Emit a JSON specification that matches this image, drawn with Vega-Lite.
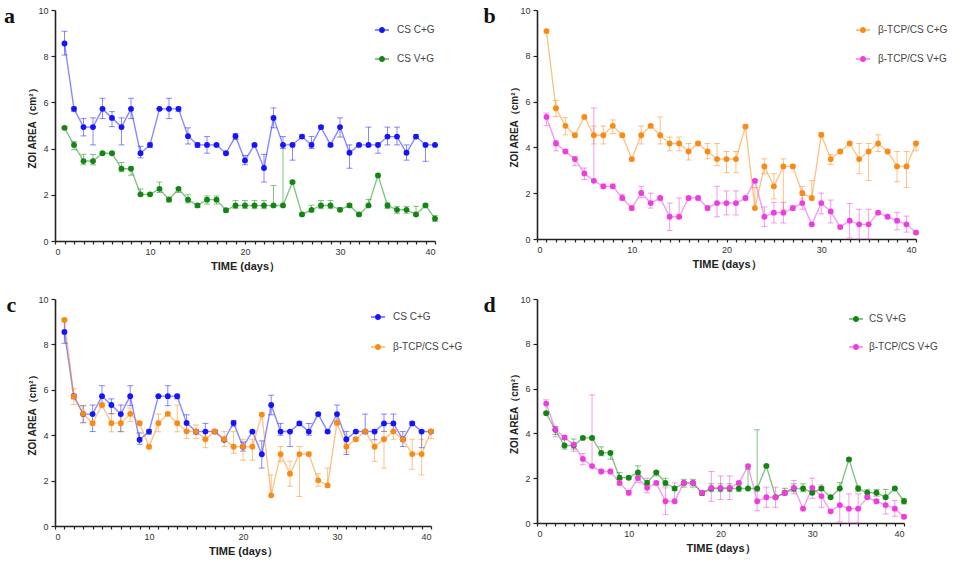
{
  "$schema": "https://vega.github.io/schema/vega-lite/v6.json",
  "background": "white",
  "padding": {"left": 3, "top": 5, "right": 2, "bottom": 5},
  "config": {
    "view": {"stroke": null},
    "font": "Liberation Sans",
    "axis": {
      "grid": false,
      "domainColor": "#222222",
      "domainWidth": 1.6,
      "tickColor": "#222222",
      "tickWidth": 1.2,
      "tickSize": 4,
      "labelFont": "Liberation Sans",
      "labelFontSize": 9,
      "labelColor": "#333333",
      "labelPadding": 3,
      "titleFont": "Liberation Sans",
      "titleFontSize": 10,
      "titleFontWeight": "bold",
      "titleColor": "#222222"
    },
    "legend": {
      "title": null,
      "orient": "none",
      "padding": 0,
      "symbolType": "M-1,-0.07L-0.43,-0.07L-0.43,0.07L-1,0.07Z M0.43,-0.07L1,-0.07L1,0.07L0.43,0.07Z M0.43,0A0.43,0.43,0,1,1,-0.43,0A0.43,0.43,0,1,1,0.43,0Z",
      "symbolSize": 196,
      "symbolOpacity": 1,
      "symbolStrokeWidth": 0,
      "labelFont": "Liberation Sans",
      "labelFontSize": 10,
      "labelColor": "#444444",
      "labelOffset": 8,
      "rowPadding": 17
    },
    "title": {"font": "Liberation Serif", "fontSize": 22, "fontWeight": "bold", "color": "#111111"}
  },
  "datasets": {
    "zoi": [
      {"group": "CS C+G", "day": 1, "v": 8.55, "lo": 8.05, "hi": 9.08},
      {"group": "CS C+G", "day": 2, "v": 5.72, "lo": 5.6, "hi": 5.8},
      {"group": "CS C+G", "day": 3, "v": 4.93, "lo": 4.55, "hi": 5.3},
      {"group": "CS C+G", "day": 4, "v": 4.93, "lo": 4.16, "hi": 5.33},
      {"group": "CS C+G", "day": 5, "v": 5.72, "lo": 5.3, "hi": 6.18},
      {"group": "CS C+G", "day": 6, "v": 5.33, "lo": 4.95, "hi": 5.6},
      {"group": "CS C+G", "day": 7, "v": 4.93, "lo": 4.16, "hi": 5.33},
      {"group": "CS C+G", "day": 8, "v": 5.72, "lo": 5.3, "hi": 6.18},
      {"group": "CS C+G", "day": 9, "v": 3.8, "lo": 3.6, "hi": 4.1},
      {"group": "CS C+G", "day": 10, "v": 4.16, "lo": 4.05, "hi": 4.25},
      {"group": "CS C+G", "day": 11, "v": 5.72, "lo": 5.72, "hi": 5.72},
      {"group": "CS C+G", "day": 12, "v": 5.72, "lo": 5.3, "hi": 6.18},
      {"group": "CS C+G", "day": 13, "v": 5.72, "lo": 5.6, "hi": 5.8},
      {"group": "CS C+G", "day": 14, "v": 4.54, "lo": 4.2, "hi": 4.9},
      {"group": "CS C+G", "day": 15, "v": 4.16, "lo": 4.05, "hi": 4.25},
      {"group": "CS C+G", "day": 16, "v": 4.16, "lo": 3.8, "hi": 4.52},
      {"group": "CS C+G", "day": 17, "v": 4.16, "lo": 4.1, "hi": 4.2},
      {"group": "CS C+G", "day": 18, "v": 3.8, "lo": 3.75, "hi": 3.85},
      {"group": "CS C+G", "day": 19, "v": 4.54, "lo": 4.4, "hi": 4.65},
      {"group": "CS C+G", "day": 20, "v": 3.49, "lo": 3.3, "hi": 3.7},
      {"group": "CS C+G", "day": 21, "v": 4.16, "lo": 4.1, "hi": 4.2},
      {"group": "CS C+G", "day": 22, "v": 3.16, "lo": 2.55, "hi": 3.75},
      {"group": "CS C+G", "day": 23, "v": 5.33, "lo": 4.9, "hi": 5.76},
      {"group": "CS C+G", "day": 24, "v": 4.16, "lo": 4.0, "hi": 4.52},
      {"group": "CS C+G", "day": 25, "v": 4.16, "lo": 3.5, "hi": 4.2},
      {"group": "CS C+G", "day": 26, "v": 4.52, "lo": 4.45, "hi": 4.6},
      {"group": "CS C+G", "day": 27, "v": 4.16, "lo": 4.0, "hi": 4.52},
      {"group": "CS C+G", "day": 28, "v": 4.93, "lo": 4.85, "hi": 5.0},
      {"group": "CS C+G", "day": 29, "v": 4.16, "lo": 4.1, "hi": 4.2},
      {"group": "CS C+G", "day": 30, "v": 4.93, "lo": 4.5, "hi": 5.33},
      {"group": "CS C+G", "day": 31, "v": 3.82, "lo": 3.15, "hi": 4.16},
      {"group": "CS C+G", "day": 32, "v": 4.16, "lo": 4.1, "hi": 4.2},
      {"group": "CS C+G", "day": 33, "v": 4.16, "lo": 4.1, "hi": 4.93},
      {"group": "CS C+G", "day": 34, "v": 4.16, "lo": 3.8, "hi": 4.25},
      {"group": "CS C+G", "day": 35, "v": 4.52, "lo": 4.16, "hi": 4.93},
      {"group": "CS C+G", "day": 36, "v": 4.52, "lo": 4.16, "hi": 4.93},
      {"group": "CS C+G", "day": 37, "v": 3.82, "lo": 3.5, "hi": 4.16},
      {"group": "CS C+G", "day": 38, "v": 4.52, "lo": 4.45, "hi": 4.6},
      {"group": "CS C+G", "day": 39, "v": 4.16, "lo": 3.45, "hi": 4.2},
      {"group": "CS C+G", "day": 40, "v": 4.16, "lo": 4.16, "hi": 4.16},

      {"group": "CS V+G", "day": 1, "v": 4.9, "lo": 4.85, "hi": 4.95},
      {"group": "CS V+G", "day": 2, "v": 4.16, "lo": 3.95, "hi": 4.3},
      {"group": "CS V+G", "day": 3, "v": 3.46, "lo": 3.3, "hi": 3.75},
      {"group": "CS V+G", "day": 4, "v": 3.46, "lo": 3.3, "hi": 3.75},
      {"group": "CS V+G", "day": 5, "v": 3.8, "lo": 3.75, "hi": 3.85},
      {"group": "CS V+G", "day": 6, "v": 3.8, "lo": 3.75, "hi": 3.85},
      {"group": "CS V+G", "day": 7, "v": 3.13, "lo": 3.0, "hi": 3.4},
      {"group": "CS V+G", "day": 8, "v": 3.13, "lo": 2.85, "hi": 3.2},
      {"group": "CS V+G", "day": 9, "v": 2.02, "lo": 1.95, "hi": 2.25},
      {"group": "CS V+G", "day": 10, "v": 2.02, "lo": 1.97, "hi": 2.07},
      {"group": "CS V+G", "day": 11, "v": 2.26, "lo": 2.1, "hi": 2.55},
      {"group": "CS V+G", "day": 12, "v": 1.79, "lo": 1.7, "hi": 1.9},
      {"group": "CS V+G", "day": 13, "v": 2.26, "lo": 2.1, "hi": 2.3},
      {"group": "CS V+G", "day": 14, "v": 1.79, "lo": 1.65, "hi": 2.0},
      {"group": "CS V+G", "day": 15, "v": 1.54, "lo": 1.45, "hi": 1.6},
      {"group": "CS V+G", "day": 16, "v": 1.79, "lo": 1.6, "hi": 1.95},
      {"group": "CS V+G", "day": 17, "v": 1.79, "lo": 1.6, "hi": 1.95},
      {"group": "CS V+G", "day": 18, "v": 1.33, "lo": 1.25, "hi": 1.4},
      {"group": "CS V+G", "day": 19, "v": 1.54, "lo": 1.4, "hi": 1.75},
      {"group": "CS V+G", "day": 20, "v": 1.54, "lo": 1.4, "hi": 1.75},
      {"group": "CS V+G", "day": 21, "v": 1.54, "lo": 1.4, "hi": 1.75},
      {"group": "CS V+G", "day": 22, "v": 1.54, "lo": 1.4, "hi": 1.75},
      {"group": "CS V+G", "day": 23, "v": 1.54, "lo": 1.5, "hi": 2.4},
      {"group": "CS V+G", "day": 24, "v": 1.54, "lo": 1.54, "hi": 4.16},
      {"group": "CS V+G", "day": 25, "v": 2.55, "lo": 2.5, "hi": 2.6},
      {"group": "CS V+G", "day": 26, "v": 1.15, "lo": 1.1, "hi": 1.2},
      {"group": "CS V+G", "day": 27, "v": 1.35, "lo": 1.25, "hi": 1.55},
      {"group": "CS V+G", "day": 28, "v": 1.54, "lo": 1.4, "hi": 1.75},
      {"group": "CS V+G", "day": 29, "v": 1.54, "lo": 1.4, "hi": 1.75},
      {"group": "CS V+G", "day": 30, "v": 1.35, "lo": 1.3, "hi": 1.45},
      {"group": "CS V+G", "day": 31, "v": 1.54, "lo": 1.45, "hi": 1.6},
      {"group": "CS V+G", "day": 32, "v": 1.15, "lo": 1.1, "hi": 1.2},
      {"group": "CS V+G", "day": 33, "v": 1.54, "lo": 1.5, "hi": 1.8},
      {"group": "CS V+G", "day": 34, "v": 2.84, "lo": 2.8, "hi": 2.9},
      {"group": "CS V+G", "day": 35, "v": 1.54, "lo": 1.4, "hi": 1.65},
      {"group": "CS V+G", "day": 36, "v": 1.35, "lo": 1.2, "hi": 1.5},
      {"group": "CS V+G", "day": 37, "v": 1.35, "lo": 1.2, "hi": 1.5},
      {"group": "CS V+G", "day": 38, "v": 1.15, "lo": 1.1, "hi": 1.5},
      {"group": "CS V+G", "day": 39, "v": 1.54, "lo": 1.5, "hi": 1.6},
      {"group": "CS V+G", "day": 40, "v": 0.97, "lo": 0.85, "hi": 1.1},

      {"group": "β-TCP/CS C+G", "day": 1, "v": 9.08, "lo": 9.0, "hi": 9.15},
      {"group": "β-TCP/CS C+G", "day": 2, "v": 5.71, "lo": 5.35, "hi": 6.05},
      {"group": "β-TCP/CS C+G", "day": 3, "v": 4.94, "lo": 4.55, "hi": 5.3},
      {"group": "β-TCP/CS C+G", "day": 4, "v": 4.53, "lo": 4.45, "hi": 4.6},
      {"group": "β-TCP/CS C+G", "day": 5, "v": 5.33, "lo": 5.25, "hi": 5.4},
      {"group": "β-TCP/CS C+G", "day": 6, "v": 4.53, "lo": 4.15, "hi": 4.93},
      {"group": "β-TCP/CS C+G", "day": 7, "v": 4.53, "lo": 4.15, "hi": 4.93},
      {"group": "β-TCP/CS C+G", "day": 8, "v": 4.94, "lo": 4.6, "hi": 5.2},
      {"group": "β-TCP/CS C+G", "day": 9, "v": 4.53, "lo": 4.45, "hi": 4.6},
      {"group": "β-TCP/CS C+G", "day": 10, "v": 3.49, "lo": 3.4, "hi": 3.55},
      {"group": "β-TCP/CS C+G", "day": 11, "v": 4.53, "lo": 4.15, "hi": 4.93},
      {"group": "β-TCP/CS C+G", "day": 12, "v": 4.94, "lo": 4.85, "hi": 5.0},
      {"group": "β-TCP/CS C+G", "day": 13, "v": 4.53, "lo": 4.15, "hi": 5.33},
      {"group": "β-TCP/CS C+G", "day": 14, "v": 4.17, "lo": 3.85, "hi": 4.45},
      {"group": "β-TCP/CS C+G", "day": 15, "v": 4.17, "lo": 3.85, "hi": 4.45},
      {"group": "β-TCP/CS C+G", "day": 16, "v": 3.82, "lo": 3.45, "hi": 4.17},
      {"group": "β-TCP/CS C+G", "day": 17, "v": 4.17, "lo": 4.1, "hi": 4.25},
      {"group": "β-TCP/CS C+G", "day": 18, "v": 3.82, "lo": 3.5, "hi": 4.17},
      {"group": "β-TCP/CS C+G", "day": 19, "v": 3.49, "lo": 3.2, "hi": 4.17},
      {"group": "β-TCP/CS C+G", "day": 20, "v": 3.49, "lo": 2.9, "hi": 3.82},
      {"group": "β-TCP/CS C+G", "day": 21, "v": 3.49, "lo": 2.9, "hi": 3.82},
      {"group": "β-TCP/CS C+G", "day": 22, "v": 4.91, "lo": 4.85, "hi": 5.0},
      {"group": "β-TCP/CS C+G", "day": 23, "v": 1.35, "lo": 1.3, "hi": 2.25},
      {"group": "β-TCP/CS C+G", "day": 24, "v": 3.17, "lo": 2.85, "hi": 3.5},
      {"group": "β-TCP/CS C+G", "day": 25, "v": 2.3, "lo": 1.75, "hi": 2.85},
      {"group": "β-TCP/CS C+G", "day": 26, "v": 3.17, "lo": 1.3, "hi": 3.5},
      {"group": "β-TCP/CS C+G", "day": 27, "v": 3.17, "lo": 3.1, "hi": 3.25},
      {"group": "β-TCP/CS C+G", "day": 28, "v": 2.01, "lo": 1.75, "hi": 2.3},
      {"group": "β-TCP/CS C+G", "day": 29, "v": 1.79, "lo": 1.7, "hi": 2.55},
      {"group": "β-TCP/CS C+G", "day": 30, "v": 4.55, "lo": 4.45, "hi": 4.65},
      {"group": "β-TCP/CS C+G", "day": 31, "v": 3.49, "lo": 3.25, "hi": 3.7},
      {"group": "β-TCP/CS C+G", "day": 32, "v": 3.82, "lo": 3.75, "hi": 3.9},
      {"group": "β-TCP/CS C+G", "day": 33, "v": 4.17, "lo": 4.1, "hi": 4.25},
      {"group": "β-TCP/CS C+G", "day": 34, "v": 3.49, "lo": 2.85, "hi": 4.17},
      {"group": "β-TCP/CS C+G", "day": 35, "v": 3.82, "lo": 2.55, "hi": 4.17},
      {"group": "β-TCP/CS C+G", "day": 36, "v": 4.17, "lo": 3.82, "hi": 4.55},
      {"group": "β-TCP/CS C+G", "day": 37, "v": 3.82, "lo": 3.75, "hi": 3.9},
      {"group": "β-TCP/CS C+G", "day": 38, "v": 3.17, "lo": 2.5, "hi": 3.82},
      {"group": "β-TCP/CS C+G", "day": 39, "v": 3.17, "lo": 2.25, "hi": 3.82},
      {"group": "β-TCP/CS C+G", "day": 40, "v": 4.17, "lo": 3.85, "hi": 4.25},

      {"group": "β-TCP/CS V+G", "day": 1, "v": 5.33, "lo": 4.95, "hi": 5.5},
      {"group": "β-TCP/CS V+G", "day": 2, "v": 4.17, "lo": 3.85, "hi": 4.3},
      {"group": "β-TCP/CS V+G", "day": 3, "v": 3.82, "lo": 3.75, "hi": 3.9},
      {"group": "β-TCP/CS V+G", "day": 4, "v": 3.49, "lo": 3.2, "hi": 3.6},
      {"group": "β-TCP/CS V+G", "day": 5, "v": 2.86, "lo": 2.6, "hi": 3.1},
      {"group": "β-TCP/CS V+G", "day": 6, "v": 2.54, "lo": 2.54, "hi": 5.72},
      {"group": "β-TCP/CS V+G", "day": 7, "v": 2.3, "lo": 2.2, "hi": 2.4},
      {"group": "β-TCP/CS V+G", "day": 8, "v": 2.3, "lo": 2.2, "hi": 2.4},
      {"group": "β-TCP/CS V+G", "day": 9, "v": 1.79, "lo": 1.7, "hi": 1.95},
      {"group": "β-TCP/CS V+G", "day": 10, "v": 1.35, "lo": 1.25, "hi": 1.45},
      {"group": "β-TCP/CS V+G", "day": 11, "v": 2.01, "lo": 1.8, "hi": 2.3},
      {"group": "β-TCP/CS V+G", "day": 12, "v": 1.57, "lo": 1.35, "hi": 2.0},
      {"group": "β-TCP/CS V+G", "day": 13, "v": 1.79, "lo": 1.7, "hi": 1.85},
      {"group": "β-TCP/CS V+G", "day": 14, "v": 0.97, "lo": 0.37, "hi": 1.57},
      {"group": "β-TCP/CS V+G", "day": 15, "v": 0.97, "lo": 0.9, "hi": 1.79},
      {"group": "β-TCP/CS V+G", "day": 16, "v": 1.79, "lo": 1.7, "hi": 1.85},
      {"group": "β-TCP/CS V+G", "day": 17, "v": 1.79, "lo": 1.7, "hi": 1.85},
      {"group": "β-TCP/CS V+G", "day": 18, "v": 1.35, "lo": 1.25, "hi": 1.45},
      {"group": "β-TCP/CS V+G", "day": 19, "v": 1.57, "lo": 0.97, "hi": 2.3},
      {"group": "β-TCP/CS V+G", "day": 20, "v": 1.57, "lo": 1.05, "hi": 2.1},
      {"group": "β-TCP/CS V+G", "day": 21, "v": 1.57, "lo": 1.05, "hi": 2.1},
      {"group": "β-TCP/CS V+G", "day": 22, "v": 1.79, "lo": 1.7, "hi": 1.85},
      {"group": "β-TCP/CS V+G", "day": 23, "v": 2.54, "lo": 2.45, "hi": 2.6},
      {"group": "β-TCP/CS V+G", "day": 24, "v": 0.97, "lo": 0.55, "hi": 1.4},
      {"group": "β-TCP/CS V+G", "day": 25, "v": 1.15, "lo": 0.7, "hi": 1.6},
      {"group": "β-TCP/CS V+G", "day": 26, "v": 1.15, "lo": 0.7, "hi": 1.6},
      {"group": "β-TCP/CS V+G", "day": 27, "v": 1.35, "lo": 1.25, "hi": 1.45},
      {"group": "β-TCP/CS V+G", "day": 28, "v": 1.57, "lo": 1.3, "hi": 1.9},
      {"group": "β-TCP/CS V+G", "day": 29, "v": 0.64, "lo": 0.6, "hi": 0.7},
      {"group": "β-TCP/CS V+G", "day": 30, "v": 1.57, "lo": 1.1, "hi": 2.0},
      {"group": "β-TCP/CS V+G", "day": 31, "v": 1.2, "lo": 0.7, "hi": 1.7},
      {"group": "β-TCP/CS V+G", "day": 32, "v": 0.52, "lo": 0.45, "hi": 0.6},
      {"group": "β-TCP/CS V+G", "day": 33, "v": 0.8, "lo": 0.05, "hi": 1.55},
      {"group": "β-TCP/CS V+G", "day": 34, "v": 0.64, "lo": 0.0, "hi": 1.3},
      {"group": "β-TCP/CS V+G", "day": 35, "v": 0.64, "lo": 0.0, "hi": 1.3},
      {"group": "β-TCP/CS V+G", "day": 36, "v": 1.15, "lo": 1.1, "hi": 1.2},
      {"group": "β-TCP/CS V+G", "day": 37, "v": 0.97, "lo": 0.9, "hi": 1.05},
      {"group": "β-TCP/CS V+G", "day": 38, "v": 0.8, "lo": 0.4, "hi": 1.15},
      {"group": "β-TCP/CS V+G", "day": 39, "v": 0.64, "lo": 0.3, "hi": 1.0},
      {"group": "β-TCP/CS V+G", "day": 40, "v": 0.28, "lo": 0.2, "hi": 0.35}
    ]
  },
  "spacing": 23,
  "vconcat": [
    {
      "spacing": 45,
      "hconcat": [
        {
          "width": 380, "height": 231,
          "title": {"text": "a", "orient": "left", "anchor": "end", "angle": 0, "baseline": "top", "offset": 2},
          "data": {"name": "zoi"},
          "transform": [{"filter": {"field": "group", "oneOf": ["CS C+G", "CS V+G"]}}],
          "encoding": {
            "x": {"field": "day", "type": "quantitative", "scale": {"domain": [0, 40], "nice": false},
                  "axis": {"title": "TIME (days）", "titleFontSize": 11, "values": [0,1,2,3,4,5,6,7,8,9,10,11,12,13,14,15,16,17,18,19,20,21,22,23,24,25,26,27,28,29,30,31,32,33,34,35,36,37,38,39,40], "labelExpr": "datum.value % 10 === 0 ? datum.label : ''", "tickSize": 3, "titlePadding": 4}},
            "color": {"field": "group", "type": "nominal", "scale": {"domain": ["CS C+G", "CS V+G"], "range": ["#1414ff", "#128512"]},
                      "legend": {"legendX": 320, "legendY": 13}}
          },
          "layer": [
            {"mark": {"type": "line", "strokeWidth": 1.4, "opacity": 0.5},
             "encoding": {"y": {"field": "v", "type": "quantitative", "title": "ZOI AREA（cm²）", "scale": {"domain": [0, 10], "nice": false},
                                "axis": {"title": "ZOI AREA（cm²）", "values": [0, 2, 4, 6, 8, 10], "titlePadding": 0}}}},
            {"mark": {"type": "errorbar", "rule": {"opacity": 0.5, "strokeWidth": 1}, "ticks": {"opacity": 0.5, "size": 6, "thickness": 1}},
             "encoding": {"y": {"field": "lo", "type": "quantitative", "title": "ZOI AREA（cm²）"}, "y2": {"field": "hi"}}},
            {"mark": {"type": "point", "filled": true, "size": 34, "opacity": 1},
             "encoding": {"y": {"field": "v", "type": "quantitative", "title": "ZOI AREA（cm²）"}}}
          ]
        },
        {
          "width": 379, "height": 229,
          "title": {"text": "b", "orient": "left", "anchor": "end", "angle": 0, "baseline": "top", "offset": 2},
          "data": {"name": "zoi"},
          "transform": [{"filter": {"field": "group", "oneOf": ["β-TCP/CS C+G", "β-TCP/CS V+G"]}}],
          "encoding": {
            "x": {"field": "day", "type": "quantitative", "scale": {"domain": [0, 40], "nice": false},
                  "axis": {"title": "TIME (days）", "titleFontSize": 11, "values": [0,1,2,3,4,5,6,7,8,9,10,11,12,13,14,15,16,17,18,19,20,21,22,23,24,25,26,27,28,29,30,31,32,33,34,35,36,37,38,39,40], "labelExpr": "datum.value % 10 === 0 ? datum.label : ''", "tickSize": 3, "titlePadding": 4}},
            "color": {"field": "group", "type": "nominal", "scale": {"domain": ["β-TCP/CS C+G", "β-TCP/CS V+G"], "range": ["#fb8a14", "#ee3ce0"]},
                      "legend": {"legendX": 319, "legendY": 13}}
          },
          "layer": [
            {"mark": {"type": "line", "strokeWidth": 1.4, "opacity": 0.5},
             "encoding": {"y": {"field": "v", "type": "quantitative", "title": "ZOI AREA（cm²）", "scale": {"domain": [0, 10], "nice": false},
                                "axis": {"title": "ZOI AREA（cm²）", "values": [0, 2, 4, 6, 8, 10], "titlePadding": 0}}}},
            {"mark": {"type": "errorbar", "rule": {"opacity": 0.5, "strokeWidth": 1}, "ticks": {"opacity": 0.5, "size": 6, "thickness": 1}},
             "encoding": {"y": {"field": "lo", "type": "quantitative", "title": "ZOI AREA（cm²）"}, "y2": {"field": "hi"}}},
            {"mark": {"type": "point", "filled": true, "size": 34, "opacity": 1},
             "encoding": {"y": {"field": "v", "type": "quantitative", "title": "ZOI AREA（cm²）"}}}
          ]
        }
      ],
      "resolve": {"scale": {"color": "independent"}}
    },
    {
      "spacing": 20,
      "hconcat": [
        {
          "width": 376, "height": 227,
          "title": {"text": "c", "orient": "left", "anchor": "end", "angle": 0, "baseline": "top", "offset": 2},
          "data": {"name": "zoi"},
          "transform": [{"filter": {"field": "group", "oneOf": ["CS C+G", "β-TCP/CS C+G"]}}],
          "encoding": {
            "x": {"field": "day", "type": "quantitative", "scale": {"domain": [0, 40], "nice": false},
                  "axis": {"title": "TIME (days）", "titleFontSize": 11, "values": [0,1,2,3,4,5,6,7,8,9,10,11,12,13,14,15,16,17,18,19,20,21,22,23,24,25,26,27,28,29,30,31,32,33,34,35,36,37,38,39,40], "labelExpr": "datum.value % 10 === 0 ? datum.label : ''", "tickSize": 3, "titlePadding": 4}},
            "color": {"field": "group", "type": "nominal", "scale": {"domain": ["CS C+G", "β-TCP/CS C+G"], "range": ["#1414ff", "#fb8a14"]},
                      "legend": {"legendX": 316, "legendY": 11, "rowPadding": 18}}
          },
          "layer": [
            {"mark": {"type": "line", "strokeWidth": 1.4, "opacity": 0.5},
             "encoding": {"y": {"field": "v", "type": "quantitative", "title": "ZOI AREA（cm²）", "scale": {"domain": [0, 10], "nice": false},
                                "axis": {"title": "ZOI AREA（cm²）", "values": [0, 2, 4, 6, 8, 10], "titlePadding": 0}}}},
            {"mark": {"type": "errorbar", "rule": {"opacity": 0.5, "strokeWidth": 1}, "ticks": {"opacity": 0.5, "size": 6, "thickness": 1}},
             "encoding": {"y": {"field": "lo", "type": "quantitative", "title": "ZOI AREA（cm²）"}, "y2": {"field": "hi"}}},
            {"mark": {"type": "point", "filled": true, "size": 34, "opacity": 1},
             "encoding": {"y": {"field": "v", "type": "quantitative", "title": "ZOI AREA（cm²）"}}}
          ]
        },
        {
          "width": 367, "height": 224,
          "title": {"text": "d", "orient": "left", "anchor": "end", "angle": 0, "baseline": "top", "offset": 2},
          "data": {"name": "zoi"},
          "transform": [{"filter": {"field": "group", "oneOf": ["CS V+G", "β-TCP/CS V+G"]}}],
          "encoding": {
            "x": {"field": "day", "type": "quantitative", "scale": {"domain": [0, 40], "nice": false},
                  "axis": {"title": "TIME (days）", "titleFontSize": 11, "values": [0,1,2,3,4,5,6,7,8,9,10,11,12,13,14,15,16,17,18,19,20,21,22,23,24,25,26,27,28,29,30,31,32,33,34,35,36,37,38,39,40], "labelExpr": "datum.value % 10 === 0 ? datum.label : ''", "tickSize": 3, "titlePadding": 4}},
            "color": {"field": "group", "type": "nominal", "scale": {"domain": ["CS V+G", "β-TCP/CS V+G"], "range": ["#128512", "#ee3ce0"]},
                      "legend": {"legendX": 312, "legendY": 13, "rowPadding": 16, "labelOffset": 6}}
          },
          "layer": [
            {"mark": {"type": "line", "strokeWidth": 1.4, "opacity": 0.5},
             "encoding": {"y": {"field": "v", "type": "quantitative", "title": "ZOI AREA（cm²）", "scale": {"domain": [0, 10], "nice": false},
                                "axis": {"title": "ZOI AREA（cm²）", "values": [0, 2, 4, 6, 8, 10], "titlePadding": 0}}}},
            {"mark": {"type": "errorbar", "rule": {"opacity": 0.5, "strokeWidth": 1}, "ticks": {"opacity": 0.5, "size": 6, "thickness": 1}},
             "encoding": {"y": {"field": "lo", "type": "quantitative", "title": "ZOI AREA（cm²）"}, "y2": {"field": "hi"}}},
            {"mark": {"type": "point", "filled": true, "size": 34, "opacity": 1},
             "encoding": {"y": {"field": "v", "type": "quantitative", "title": "ZOI AREA（cm²）"}}}
          ]
        }
      ],
      "resolve": {"scale": {"color": "independent"}}
    }
  ],
  "resolve": {"scale": {"color": "independent"}}
}
